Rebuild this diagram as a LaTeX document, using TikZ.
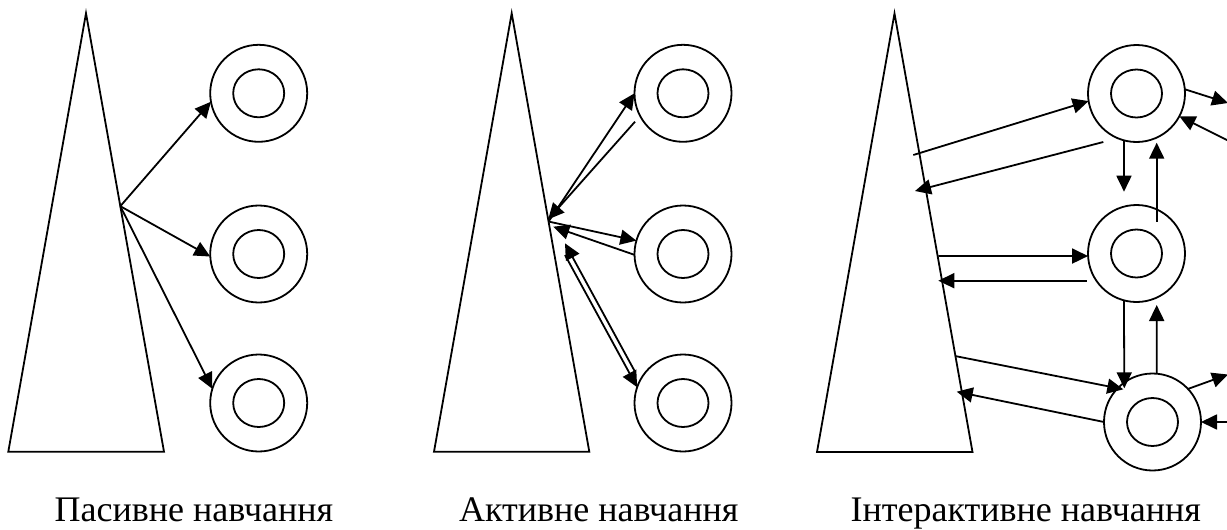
\documentclass[tikz,border=0pt]{standalone}
\usepackage{fontspec}
\setmainfont{Liberation Serif}
\usepackage{tikz}
\usetikzlibrary{arrows.meta, calc, positioning}

\begin{document}
\begin{tikzpicture}[x=1pt,y=-1pt,line width=1.8pt,
ring/.style={circle, draw, minimum size=97pt, inner sep=0pt, outer sep=0pt, path picture={\draw (path picture bounding box.center) ellipse [x radius=25.5pt, y radius=24pt];}},
arr/.style={-{Triangle[length=16pt,width=15pt]}},
caption/.style={anchor=base, inner sep=0pt, font=\fontsize{36}{40}\selectfont}]
\useasboundingbox (0,0) rectangle (1227,530);
\clip (0,0) rectangle (1227,530);

% passive
\coordinate (t1top) at (86,13.3);
\coordinate (t1bl) at (8.3,451.7);
\coordinate (t1br) at (164,451.7);
\draw (t1top) -- (t1bl) -- (t1br) -- cycle;
\node[ring] (pas1) at (258.7,93.3) {};
\node[ring] (pas2) at (258.7,254) {};
\node[ring] (pas3) at (258.7,403) {};
\coordinate (p1) at ($(t1top)!0.44!(t1br)$);
\draw[arr] (p1) -- (pas1.190);
\draw[arr] (p1) -- (pas2.183);
\draw[arr] (p1) -- (pas3.163);
\node[caption] (cap1) at (194,521) {Пасивне навчання};

% active
\coordinate (t2top) at (511.7,13.3);
\coordinate (t2bl) at (434,451.7);
\coordinate (t2br) at (589.3,451.7);
\draw (t2top) -- (t2bl) -- (t2br) -- cycle;
\node[ring] (akt1) at (683,93.3) {};
\node[ring] (akt2) at (683,254) {};
\node[ring] (akt3) at (683,403) {};
\coordinate (p2) at ($(t2top)!0.475!(t2br)$);
\coordinate (p2a) at ($(t2top)!0.47!(t2br)$);
\coordinate (p2b) at (553.3,226.7);
\coordinate (r2a) at (635,121.7);
\coordinate (q2a) at (565,243.3);
\coordinate (q2b) at (635,371.7);
\coordinate (q2c) at (565,255);
\draw[arr] (p2) -- (akt1.180);
\draw[arr] (r2a) -- (p2a);
\draw[arr] (p2) -- (akt2.164);
\draw[arr] (akt2.181) -- (p2b);
\draw[arr] (q2b) -- (q2a);
\draw[arr] (q2c) -- (akt3.161);
\node[caption] (cap2) at (598.7,521) {Активне навчання};

% interactive
\coordinate (t3top) at (894.5,13.5);
\coordinate (t3bl) at (817,452);
\coordinate (t3br) at (972.5,452);
\draw (t3top) -- (t3bl) -- (t3br) -- cycle;
\node[ring] (int1) at (1136.5,93.5) {};
\node[ring] (int2) at (1136.5,253.5) {};
\node[ring] (int3) at (1152.5,422) {};
\coordinate (u1) at (913.3,155);
\coordinate (u2) at (1103.3,142);
\coordinate (u3) at (915,191);
\coordinate (u4) at (1124,191.7);
\coordinate (u5) at (1156.7,221.7);
\coordinate (u6) at (1156.7,142.7);
\coordinate (v1) at (938.3,256);
\coordinate (v2) at (1086.7,280.7);
\coordinate (v3) at (938.3,280.7);
\coordinate (v4) at (1124.3,388.3);
\coordinate (v5) at (1156.7,305);
\coordinate (w1) at (955,356);
\coordinate (w2) at (1123.3,389.3);
\coordinate (w3) at (956.7,391.7);
\coordinate (e1) at (1228,103);
\coordinate (e2) at (1240,146.5);
\coordinate (e3) at (1228,374.5);
\coordinate (e4) at (1240,422);
\draw[arr] (u1) -- (int1.189);
\draw[arr] (u2) -- (u3);
\draw[arr] (int1.5) -- (e1);
\draw[arr] (e2) -- (int1.332);
\draw[arr] (int1.255) -- (u4);
\draw[arr] (u5) -- (u6);
\draw[arr] (v1) -- (int2.183);
\draw[arr] (v2) -- (v3);
\draw[arr] (int2.255) -- (v4);
\draw[arr] (int3.85) -- (v5);
\draw[arr] (w1) -- (w2);
\draw[arr] (int3.180) -- (w3);
\draw[arr] (int3.43) -- (e3);
\draw[arr] (e4) -- (int3.0);
\node[caption] (cap3) at (1025.8,521) {Інтерактивне навчання};
\end{tikzpicture}
\end{document}
